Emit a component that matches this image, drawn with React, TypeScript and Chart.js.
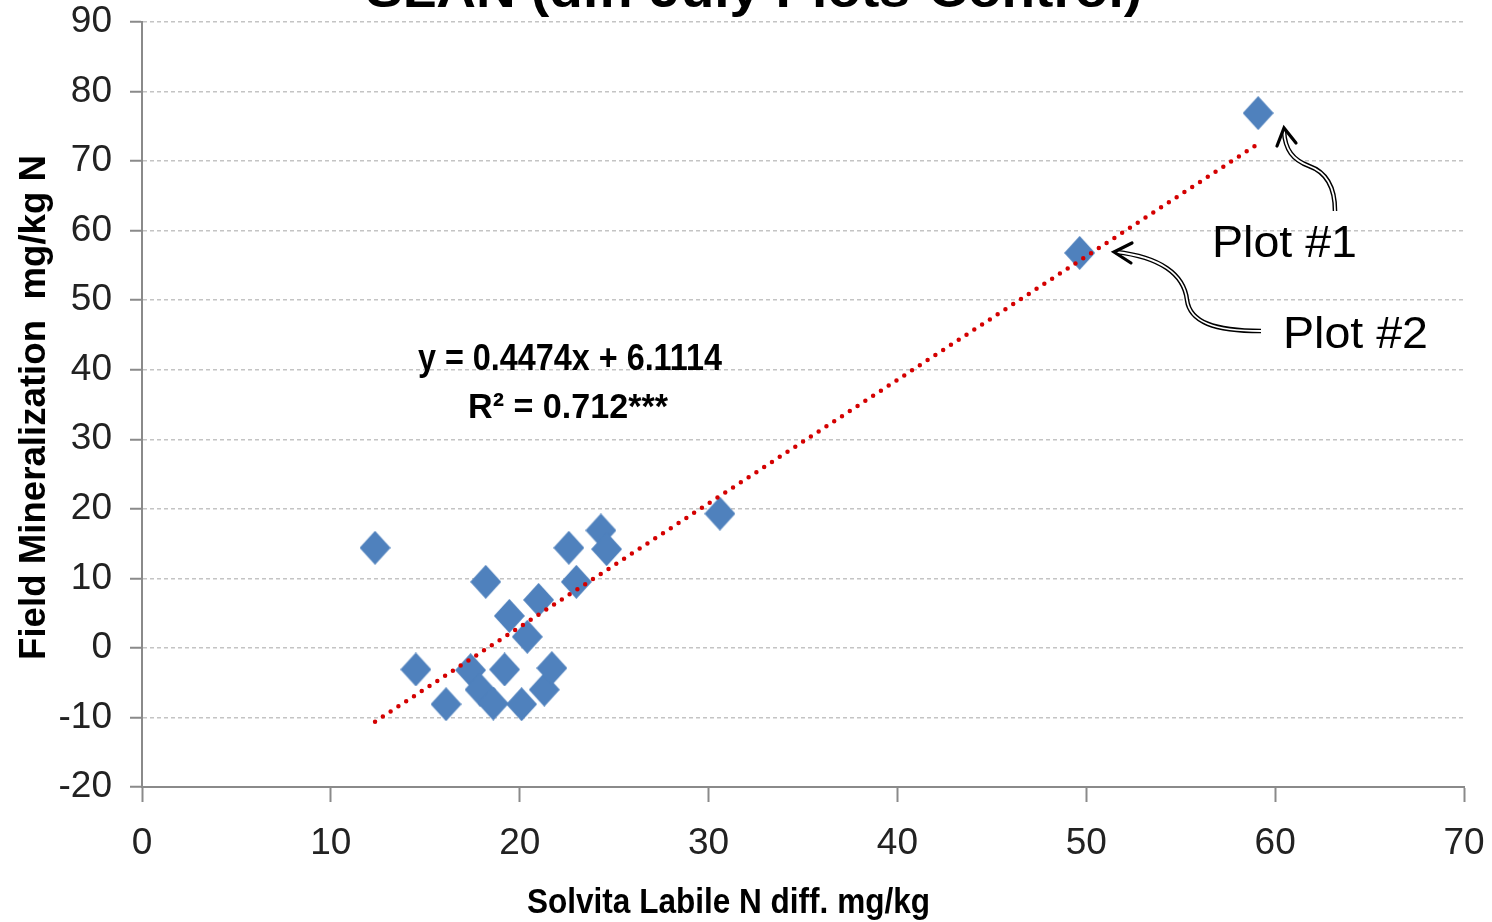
import React, { useEffect, useRef } from "react";
import { Chart, registerables } from "chart.js";

Chart.register(...registerables);

// ---- data ----
const solvitaX = [12.34, 14.5, 16.1, 17.4, 17.9, 18.6, 18.2, 19.2, 19.45, 20.1, 20.4, 21.0, 21.3, 21.7, 22.6, 23.0, 24.3, 24.6, 30.6, 49.65, 59.1];
const fieldY = [14.4, -3.1, -8.1, -3.2, -6.0, -8.0, 9.5, -3.1, 4.6, -8.1, 1.6, 6.9, -6.0, -2.9, 14.4, 9.5, 16.9, 14.2, 19.3, 56.8, 76.9];
const trendX = [12.34, 59.0];
const trendY = [-10.6, 72.3];
const xTicks = [0, 10, 20, 30, 40, 50, 60, 70];
const yTicks = [-20, -10, 0, 10, 20, 30, 40, 50, 60, 70, 80, 90];

const chartTitle = "SLAN (diff July Plots-Control)";
const xTitle = "Solvita Labile N diff. mg/kg";
const yTitle = "Field Mineralization  mg/kg N";
const eqLine1 = "y = 0.4474x + 6.1114";
const eqLine2 = "R\u00B2 = 0.712***";
const plot1Label = "Plot #1";
const plot2Label = "Plot #2";

const TICK_FONT = "'Liberation Sans Narrow', 'Arial Narrow', 'Liberation Sans', Arial, sans-serif";
const SANS = "'Liberation Sans', Arial, sans-serif";

function fitText(
  ctx: CanvasRenderingContext2D,
  text: string,
  x: number,
  y: number,
  w: number,
  font: string,
  rotate = 0
) {
  ctx.save();
  ctx.font = font;
  ctx.textAlign = "left";
  ctx.textBaseline = "alphabetic";
  const m = ctx.measureText(text).width;
  ctx.translate(x, y);
  if (rotate) ctx.rotate(rotate);
  ctx.scale(w / m, 1);
  ctx.fillStyle = "#000";
  ctx.fillText(text, 0, 0);
  ctx.restore();
}

function doubleStroke(ctx: CanvasRenderingContext2D, build: () => void) {
  ctx.save();
  ctx.lineCap = "butt";
  ctx.lineJoin = "round";
  ctx.beginPath();
  build();
  ctx.strokeStyle = "#000";
  ctx.lineWidth = 4.6;
  ctx.stroke();
  ctx.beginPath();
  build();
  ctx.strokeStyle = "#fff";
  ctx.lineWidth = 1.8;
  ctx.stroke();
  ctx.restore();
}

function chevron(ctx: CanvasRenderingContext2D, a: number[], tip: number[], b: number[]) {
  ctx.save();
  ctx.beginPath();
  ctx.moveTo(a[0], a[1]);
  ctx.lineTo(tip[0], tip[1]);
  ctx.lineTo(b[0], b[1]);
  ctx.strokeStyle = "#000";
  ctx.lineWidth = 3.2;
  ctx.lineCap = "round";
  ctx.lineJoin = "miter";
  ctx.stroke();
  ctx.restore();
}

const textPlugin = {
  id: "texts",
  afterDraw(chart: any) {
    const ctx: CanvasRenderingContext2D = chart.ctx;
    // chart title (cut off at the top)
    fitText(ctx, chartTitle, 366, 7, 776, `bold 50px ${SANS}`);
    // axis titles
    fitText(ctx, xTitle, 527, 913, 403, `bold 35px ${SANS}`);
    fitText(ctx, yTitle, 45, 660, 505, `bold 37px ${SANS}`, -Math.PI / 2);
    // equation
    fitText(ctx, eqLine1, 418, 370, 304, `bold 37px ${SANS}`);
    fitText(ctx, eqLine2, 468, 418, 200, `bold 35px ${SANS}`);
    // annotations
    fitText(ctx, plot1Label, 1212, 257, 145, `44px ${SANS}`);
    fitText(ctx, plot2Label, 1283, 348, 145, `44px ${SANS}`);

    doubleStroke(ctx, () => {
      ctx.moveTo(1335, 211);
      ctx.bezierCurveTo(1335, 186, 1326, 172, 1309, 166);
      ctx.bezierCurveTo(1293, 160, 1285, 150, 1284, 131);
    });
    chevron(ctx, [1277, 146], [1284, 128], [1296, 143]);

    doubleStroke(ctx, () => {
      ctx.moveTo(1261, 331);
      ctx.bezierCurveTo(1214, 331, 1190, 322, 1187, 300);
      ctx.bezierCurveTo(1184, 274, 1160, 257, 1116, 252);
    });
    chevron(ctx, [1132, 243], [1114, 252], [1131, 263]);
  },
};

function makeDiamond(): HTMLCanvasElement {
  const c = document.createElement("canvas");
  const w = 31;
  const h = 34;
  c.width = w;
  c.height = h;
  const g = c.getContext("2d")!;
  g.fillStyle = "#4F81BD";
  g.beginPath();
  g.moveTo(w / 2, 0);
  g.lineTo(w, h / 2);
  g.lineTo(w / 2, h);
  g.lineTo(0, h / 2);
  g.closePath();
  g.fill();
  return c;
}

export default function App() {
  const ref = useRef<HTMLCanvasElement | null>(null);

  useEffect(() => {
    document.body.style.margin = "0";
    const canvas = ref.current!;
    const diamond = makeDiamond();
    const chart = new Chart(canvas, {
      type: "scatter",
      data: {
        datasets: [
          {
            label: "Linear fit",
            type: "line",
            data: trendX.map((x, i) => ({ x, y: trendY[i] })),
            borderColor: "#D40000",
            borderWidth: 4.5,
            borderDash: [0, 9.3],
            borderCapStyle: "round",
            pointRadius: 0,
            fill: false,
            tension: 0,
          } as any,
          {
            label: "Plots",
            data: solvitaX.map((x, i) => ({ x, y: fieldY[i] })),
            pointStyle: diamond as any,
            pointRadius: 16,
            backgroundColor: "#4F81BD",
            borderWidth: 0,
          },
        ],
      },
      options: {
        responsive: false,
        animation: false,
        events: [],
        layout: { padding: { top: 22, right: 28, left: 0, bottom: 0 } },
        plugins: {
          legend: { display: false },
          tooltip: { enabled: false },
          title: { display: false },
        },
        scales: {
          x: {
            type: "linear",
            min: 0,
            max: 70,
            afterBuildTicks: (s: any) => {
              s.ticks = xTicks.map((v) => ({ value: v }));
            },
            afterFit: (s: any) => {
              s.height = 135;
              s.paddingLeft = 0;
              s.paddingRight = 0;
            },
            grid: {
              drawOnChartArea: false,
              drawTicks: true,
              tickLength: 15,
              tickColor: "#8a8a8a",
              tickWidth: 2,
            },
            border: { color: "#8a8a8a", width: 2 },
            ticks: {
              font: { family: TICK_FONT, size: 37 },
              color: "#222",
              padding: 20,
              maxRotation: 0,
              autoSkip: false,
            },
          },
          y: {
            type: "linear",
            min: -20,
            max: 90,
            afterBuildTicks: (s: any) => {
              s.ticks = yTicks.map((v) => ({ value: v }));
            },
            afterFit: (s: any) => {
              s.width = 142;
              s.paddingTop = 0;
              s.paddingBottom = 0;
            },
            grid: {
              color: "#c4c4c4",
              lineWidth: 1.5,
              drawTicks: true,
              tickLength: 12,
              tickColor: "#8a8a8a",
              tickWidth: 2,
              tickBorderDash: [],
            } as any,
            border: { color: "#8a8a8a", width: 2, dash: [4, 3] },
            ticks: {
              font: { family: TICK_FONT, size: 37 },
              color: "#222",
              padding: 18,
              autoSkip: false,
            },
          },
        },
      },
      plugins: [textPlugin],
    });
    return () => chart.destroy();
  }, []);

  return (
    <div style={{ width: 1492, height: 922, background: "#fff" }}>
      <canvas ref={ref} width={1492} height={922} style={{ display: "block" }} />
    </div>
  );
}
